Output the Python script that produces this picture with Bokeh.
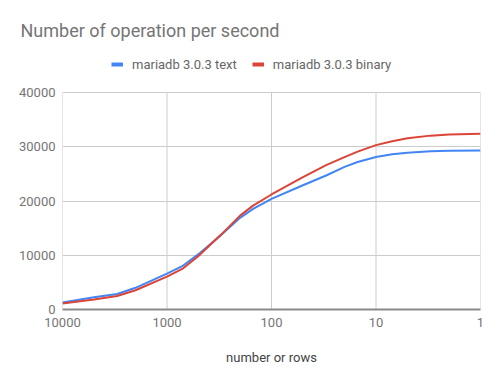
from bokeh.plotting import figure
from bokeh.models import Range1d, FixedTicker, NumeralTickFormatter, Legend, LegendItem
from bokeh.embed import file_html
from bokeh.resources import INLINE

# data
rows = [10000, 5000, 3000, 2000, 1000, 700, 500, 300, 200, 150, 100, 50, 30, 20, 15, 10, 7, 5, 3, 2, 1]
text_ops = [1300, 2250, 2850, 4000, 6600, 8100, 10200, 13800, 16900, 18550, 20400, 22900,
            24700, 26300, 27200, 28100, 28600, 28900, 29150, 29250, 29300]
binary_ops = [1100, 1850, 2500, 3550, 6050, 7600, 9850, 13900, 17300, 19150, 21200, 24400,
              26600, 28100, 29100, 30300, 31000, 31550, 32050, 32250, 32400]
x_ticks = [10000, 1000, 100, 10, 1]
y_ticks = [0, 10000, 20000, 30000, 40000]
series_names = ["mariadb 3.0.3 text", "mariadb 3.0.3 binary"]
colors = ["#4285F4", "#DB4437"]

FONT = "Roboto"
# layout (pixels): the plotting frame is extended upward so that the legend
# can sit inside it; the value axis top (40000) stays at PLOT_TOP
FRAME_TOP = 50
PLOT_TOP = 92
PLOT_BOTTOM = 309
y_end = y_ticks[-1] * (PLOT_BOTTOM - FRAME_TOP) / (PLOT_BOTTOM - PLOT_TOP)

p = figure(width=500, height=384, output_backend="svg", toolbar_location=None,
           x_axis_type="log", x_range=Range1d(10000, 1), y_range=Range1d(0, y_end),
           title="Number of operation per second",
           min_border_left=62, min_border_right=20, min_border_top=FRAME_TOP, min_border_bottom=75)

p.title.text_font = FONT
p.title.text_font_size = "18px"
p.title.text_font_style = "normal"
p.title.text_color = "#757575"
p.title.align = "left"
p.title.offset = -42
p.title.standoff = 20

p.outline_line_color = None
p.background_fill_color = "white"
p.border_fill_color = "white"

# vertical grid lines only over the value range
p.xgrid.visible = False
p.segment(x0=x_ticks, y0=[y_ticks[0]] * len(x_ticks), x1=x_ticks, y1=[y_ticks[-1]] * len(x_ticks),
          line_color="#cccccc", line_width=1, level="underlay")
p.ygrid.grid_line_color = "#cccccc"

r_text = p.line(rows, text_ops, line_width=2, color=colors[0], line_join="round")
r_bin = p.line(rows, binary_ops, line_width=2, color=colors[1], line_join="round")

# legend-only swatch renderers (thicker strokes, draw nothing in the plot)
nan = float("nan")
s_text = p.line([nan], [nan], line_width=4, color=colors[0])
s_bin = p.line([nan], [nan], line_width=4, color=colors[1])

legend = Legend(items=[LegendItem(label=series_names[0], renderers=[s_text]),
                       LegendItem(label=series_names[1], renderers=[s_bin])],
                orientation="horizontal", location=(49, PLOT_BOTTOM - 72),
                border_line_color=None, background_fill_alpha=0,
                padding=0, margin=0, spacing=15, glyph_width=12, glyph_height=16,
                label_standoff=9, label_text_font=FONT, label_text_font_size="13px",
                label_text_color="#666666")
p.add_layout(legend, "center")

p.xaxis.ticker = FixedTicker(ticks=x_ticks, minor_ticks=[])
p.xaxis.formatter = NumeralTickFormatter(format="0")
p.yaxis.ticker = FixedTicker(ticks=y_ticks, minor_ticks=[])
p.yaxis.formatter = NumeralTickFormatter(format="0")

for ax in (p.xaxis[0], p.yaxis[0]):
    ax.major_tick_line_color = None
    ax.minor_tick_line_color = None
    ax.major_tick_out = 0
    ax.major_tick_in = 0
    ax.major_label_text_font = FONT
    ax.major_label_text_font_size = "13px"
    ax.major_label_text_color = "#757575"

p.yaxis.axis_line_color = None
p.yaxis.major_label_standoff = 7
p.xaxis.axis_line_color = "#8a8a8a"
p.xaxis.axis_line_width = 2
p.xaxis.major_label_standoff = 8
p.xaxis.axis_label = "number or rows"
p.xaxis.axis_label_text_font = FONT
p.xaxis.axis_label_text_font_size = "13px"
p.xaxis.axis_label_text_font_style = "normal"
p.xaxis.axis_label_text_color = "#444444"
p.xaxis.axis_label_standoff = 20

open("out.html", "w").write(file_html(p, INLINE))
